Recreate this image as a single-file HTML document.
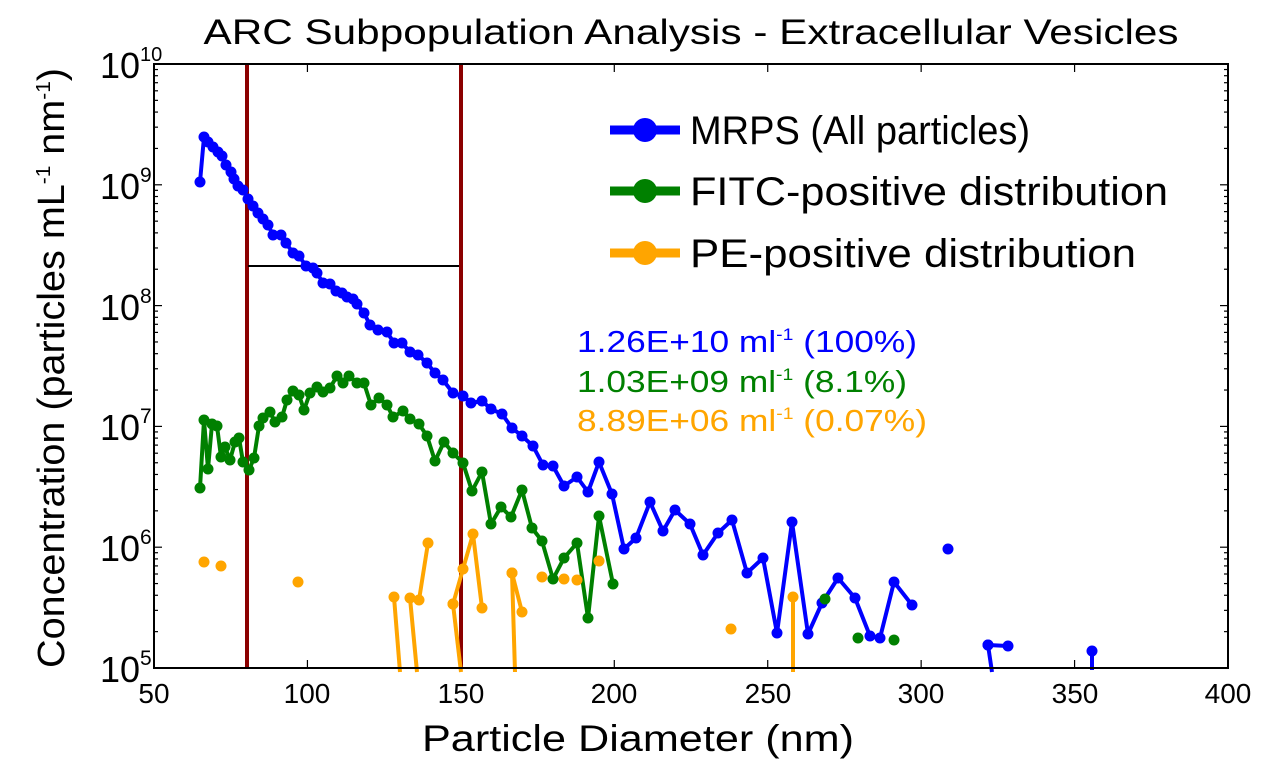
<!DOCTYPE html>
<html><head><meta charset="utf-8"><style>
html,body{margin:0;padding:0;background:#fff;}
svg{display:block;font-family:"Liberation Sans","DejaVu Sans",sans-serif;}
</style></head><body>
<svg width="1281" height="768" viewBox="0 0 1281 768" xmlns="http://www.w3.org/2000/svg">
<rect width="1281" height="768" fill="#fff"/>
<text x="691" y="44" font-size="35" text-anchor="middle" textLength="975" lengthAdjust="spacingAndGlyphs">ARC Subpopulation Analysis - Extracellular Vesicles</text>

<g stroke="#000" stroke-width="1.2" id="ticks"></g>

<line x1="247" y1="64" x2="247" y2="668" stroke="#8b0000" stroke-width="4"/>
<line x1="461" y1="64" x2="461" y2="668" stroke="#8b0000" stroke-width="4"/>
<line x1="248" y1="266" x2="459" y2="266" stroke="#000" stroke-width="2"/>

<g id="series"></g>

<rect x="154" y="64" width="1074" height="604" fill="none" stroke="#000" stroke-width="2"/>

<g font-size="36">
<text x="100" y="78">10<tspan font-size="20" dy="-17">10</tspan></text>
<text x="100" y="199">10<tspan font-size="21" dy="-17">9</tspan></text>
<text x="100" y="320">10<tspan font-size="21" dy="-17">8</tspan></text>
<text x="100" y="440">10<tspan font-size="21" dy="-17">7</tspan></text>
<text x="100" y="561">10<tspan font-size="21" dy="-17">6</tspan></text>
<text x="100" y="682">10<tspan font-size="21" dy="-17">5</tspan></text>
</g>
<g font-size="28" text-anchor="middle">
<text x="154" y="703">50</text><text x="307" y="703">100</text><text x="461" y="703">150</text>
<text x="614" y="703">200</text><text x="768" y="703">250</text><text x="921" y="703">300</text>
<text x="1075" y="703">350</text><text x="1228" y="703">400</text>
</g>
<text x="638" y="751" font-size="37" text-anchor="middle" textLength="432" lengthAdjust="spacingAndGlyphs">Particle Diameter (nm)</text>
<text transform="translate(64,368) rotate(-90)" font-size="38" text-anchor="middle" textLength="600" lengthAdjust="spacingAndGlyphs">Concentration (particles mL<tspan font-size="20" dy="-14">-1</tspan><tspan dy="14"> nm</tspan><tspan font-size="20" dy="-14">-1</tspan><tspan dy="14">)</tspan></text>

<g stroke-width="9">
<line x1="610" y1="130" x2="680" y2="130" stroke="#0000ff"/>
<line x1="610" y1="191" x2="680" y2="191" stroke="#008000"/>
<line x1="610" y1="253" x2="680" y2="253" stroke="#ffa500"/>
</g>
<circle cx="645" cy="130" r="12" fill="#0000ff"/>
<circle cx="645" cy="191" r="12" fill="#008000"/>
<circle cx="645" cy="253" r="12" fill="#ffa500"/>
<g font-size="40">
<text x="690" y="144" textLength="340" lengthAdjust="spacingAndGlyphs">MRPS (All particles)</text>
<text x="690" y="205" textLength="478" lengthAdjust="spacingAndGlyphs">FITC-positive distribution</text>
<text x="690" y="267" textLength="446" lengthAdjust="spacingAndGlyphs">PE-positive distribution</text>
</g>
<g font-size="31">
<text x="577" y="352" fill="#0000ff" textLength="340" lengthAdjust="spacingAndGlyphs">1.26E+10 ml<tspan font-size="17" dy="-12">-1</tspan><tspan dy="12"> (100%)</tspan></text>
<text x="577" y="392" fill="#008000" textLength="330" lengthAdjust="spacingAndGlyphs">1.03E+09 ml<tspan font-size="17" dy="-12">-1</tspan><tspan dy="12"> (8.1%)</tspan></text>
<text x="577" y="431" fill="#ffa500" textLength="350" lengthAdjust="spacingAndGlyphs">8.89E+06 ml<tspan font-size="17" dy="-12">-1</tspan><tspan dy="12"> (0.07%)</tspan></text>
</g>
</svg>
<script>
(function(){
var NS="http://www.w3.org/2000/svg";
var t=document.getElementById("ticks");
function ln(p,a,b,c,d){var l=document.createElementNS(NS,"line");l.setAttribute("x1",a);l.setAttribute("y1",b);l.setAttribute("x2",c);l.setAttribute("y2",d);p.appendChild(l);}
var top=64,dec=120.8;
for(var k=0;k<5;k++){for(var m=1;m<10;m++){var y=top+dec*(k+1)-dec*Math.log10(m);var L=(m==1)?8:4;ln(t,154,y,154+L,y);ln(t,1228,y,1228-L,y);}}
ln(t,154,top,162,top);
for(var i=0;i<8;i++){var x=154+i*153.43;ln(t,x,668,x,660);ln(t,x,64,x,72);}
var s=document.getElementById("series");
function poly(pts,col,w){var p=document.createElementNS(NS,"polyline");p.setAttribute("points",pts.map(function(q){return q.join(",")}).join(" "));p.setAttribute("fill","none");p.setAttribute("stroke",col);p.setAttribute("stroke-width",w);p.setAttribute("stroke-linejoin","round");s.appendChild(p);}
function dots(pts,col,r){pts.forEach(function(q){if(q[1]>=668)return;var c=document.createElementNS(NS,"circle");c.setAttribute("cx",q[0]);c.setAttribute("cy",q[1]);c.setAttribute("r",r);c.setAttribute("fill",col);s.appendChild(c);});}
var B="#0000ff",G="#008000",O="#ffa500";
var blue=[[200,182],[204,137],[208,142],[213,147],[218,152],[222,156],[226,165],[231,172],[234,179],[238,186],[243,190],[248,199],[253,206],[258,213],[263,219],[268,225],[273,235],[281,235],[286,243],[293,253],[299,256],[306,266],[313,268],[317,273],[323,283],[330,284],[336,291],[342,293],[347,297],[353,299],[357,304],[364,313],[370,325],[378,330],[387,332],[394,343],[402,343],[410,352],[418,355],[427,363],[435,373],[443,380],[453,393],[463,396],[471,403],[482,401],[491,409],[502,414],[512,428],[522,436],[533,446],[543,465],[553,466],[564,486],[577,477],[588,492],[599,462],[612,494],[624,549],[636,538],[650,502],[663,531],[675,510],[690,524],[703,555],[718,533],[732,520],[747,573],[763,558],[777,633],[792,522],[808,634],[822,603],[838,578],[855,598],[870,636],[880,638],[894,582],[912,605]];
poly(blue,B,4);dots(blue,B,5.5);
var blue2=[[988,645],[992,672]];poly(blue2,B,4);dots(blue2,B,5.5);
var blue3=[[988,645],[1008,646]];poly(blue3,B,4);dots(blue3,B,5.5);
poly([[1092,651],[1092,670]],B,4);dots([[948,549],[1092,651]],B,5.5);
var green=[[200,488],[204,420],[208,469],[212,424],[217,426],[221,457],[225,447],[230,460],[235,442],[239,438],[243,462],[249,470],[254,458],[259,426],[263,418],[270,412],[275,422],[282,417],[287,400],[293,391],[299,395],[304,410],[310,393],[317,387],[323,392],[330,388],[337,376],[343,383],[349,376],[357,383],[364,383],[371,405],[379,398],[387,405],[393,417],[403,411],[410,419],[419,424],[427,436],[435,461],[444,442],[453,453],[463,463],[472,491],[482,472],[491,524],[501,507],[511,517],[522,490],[532,528],[542,541],[553,579],[564,558],[577,543],[588,618],[599,516],[613,584]];
poly(green,G,4);dots(green,G,5.5);
dots([[825,599],[858,638],[894,640]],G,5.5);
var osegs=[[[394,597],[400,672]],[[410,598],[417,672]],[[419,600],[428,543]],[[453,604],[461,672]],[[453,604],[463,569],[473,534],[482,608]],[[512,573],[515,672]],[[512,573],[522,612]],[[793,597],[793,672]]];
osegs.forEach(function(g){poly(g,O,4);dots(g,O,5.5);});
dots([[204,562],[221,566],[298,582],[542,577],[564,579],[577,580],[599,561],[731,629]],O,5.5);
})();
</script>
</body></html>
